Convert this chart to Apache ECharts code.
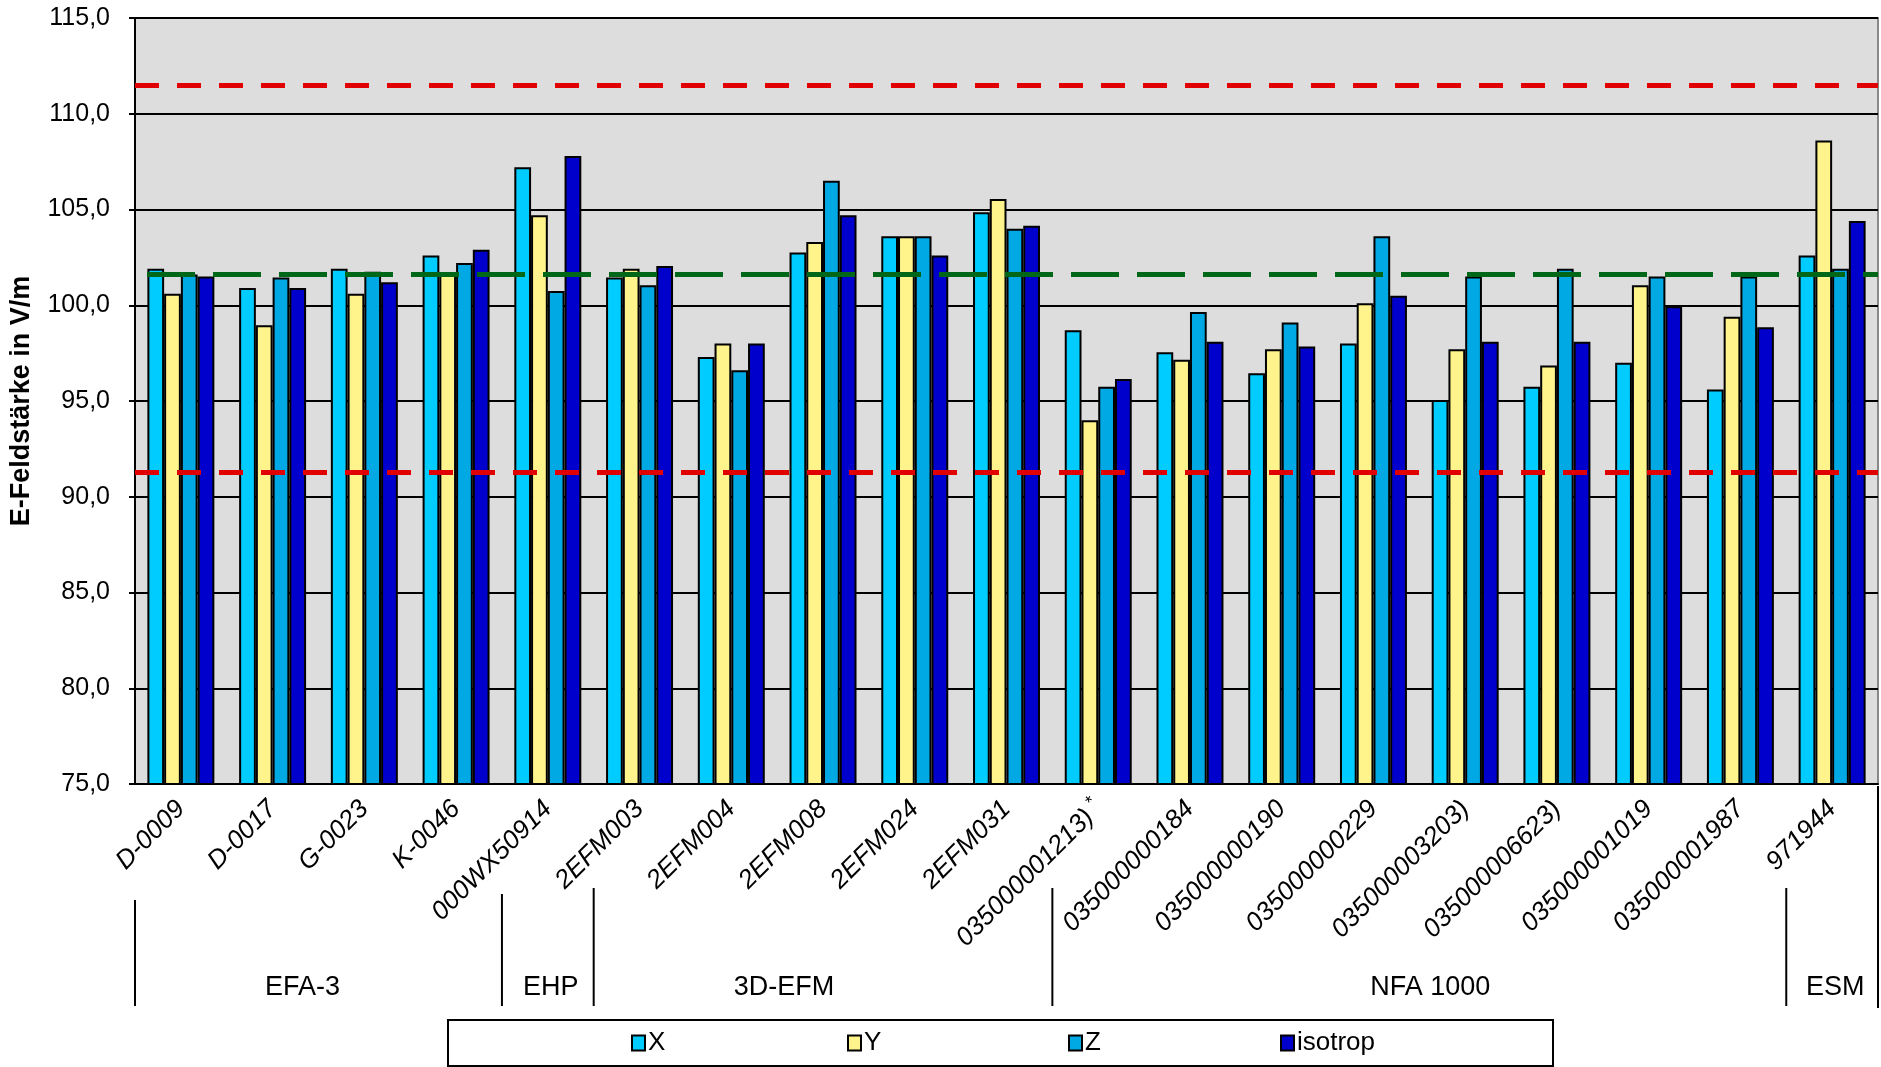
<!DOCTYPE html>
<html>
<head>
<meta charset="utf-8">
<script src="https://cdn.jsdelivr.net/npm/echarts@6/dist/echarts.min.js"></script>
<style>
html,body{margin:0;padding:0;background:#fff;}
#chart{width:1881px;height:1067px;}
</style>
</head>
<body>
<div id="chart"></div>
<script>
// Messgeräte (Kategorien)
var categories = ['D-0009','D-0017','G-0023','K-0046','000WX50914','2EFM003','2EFM004','2EFM008','2EFM024','2EFM031',
    '035000001213) *','035000000184','035000000190','035000000229','035000003203)','035000006623)','035000001019','035000001987','971944'];

// Werte in V/m
var xVals   = [101.9, 100.9, 101.9, 102.6, 107.2, 101.45, 97.3, 102.75, 103.6, 104.85, 98.7, 97.55, 96.45, 98.0, 95.05, 95.75, 97.0, 95.6, 102.6];
var yVals   = [100.6, 98.95, 100.6, 101.7, 104.7, 101.9, 98.0, 103.3, 103.6, 105.55, 94.0, 97.15, 97.7, 100.1, 97.7, 96.85, 101.05, 99.4, 108.6];
var zVals   = [101.6, 101.45, 101.75, 102.2, 100.75, 101.05, 96.6, 106.5, 103.6, 104.0, 95.75, 99.65, 99.1, 103.6, 101.5, 101.9, 101.5, 101.5, 101.9];
var isoVals = [101.5, 100.9, 101.2, 102.9, 107.8, 102.05, 98.0, 104.7, 102.6, 104.15, 96.15, 98.1, 97.85, 100.5, 98.1, 98.1, 99.95, 98.85, 104.4];

// Referenzlinien
var refMean = 101.6;
var refUpper = 111.5;
var refLower = 91.3;

// Gerätegruppen: Name und erster Kategorie-Index
var groupNames  = ['EFA-3', 'EHP', '3D-EFM', 'NFA 1000', 'ESM'];
var groupStarts = [0, 4, 5, 10, 18];

// Layout der Gruppenbeschriftung (Pixel)
var groupLabelShift = [-16, 3, -39, 11, 3];
var sepTops = [900, 894, 888, 888, 888];

var FONT = '"Liberation Sans", Arial, sans-serif';
var chart = echarts.init(document.getElementById('chart'));

function barSeries(name, data, color) {
    return {
        name: name, type: 'bar', data: data,
        barGap: '0%', barCategoryGap: '27%',
        itemStyle: {color: color, borderColor: '#000', borderWidth: 2}
    };
}

function legendAt(name, left) {
    return {
        data: [name], left: left, top: 1030, padding: 0,
        icon: 'rect', itemWidth: 13, itemHeight: 15, itemGap: 5,
        textStyle: {fontFamily: FONT, fontSize: 26, color: '#000', padding: [0, 0, 0, -2]},
        selectedMode: false
    };
}

var option = {
    animation: false,
    backgroundColor: '#fff',
    textStyle: {fontFamily: FONT},
    grid: {
        left: 126, right: 3, top: 18, bottom: 283,
        show: true, backgroundColor: '#DDDDDD', borderColor: '#888', borderWidth: 2
    },
    legend: [
        legendAt('X', 631),
        legendAt('Y', 847),
        legendAt('Z', 1068),
        legendAt('isotrop', 1280)
    ],
    xAxis: {
        type: 'category',
        data: categories,
        axisLine: {lineStyle: {color: '#000', width: 2}},
        axisTick: {length: 8, lineStyle: {color: '#000', width: 2}},
        axisLabel: {
            interval: 0, rotate: 45, margin: 21,
            fontFamily: FONT, fontSize: 26, fontStyle: 'italic', color: '#000',
            formatter: function (v) { return v.replace(' *', '{s| *}'); },
            rich: {s: {fontFamily: FONT, fontSize: 18, fontStyle: 'italic', color: '#000', padding: [0, 0, 14, 0]}}
        }
    },
    yAxis: {
        type: 'value',
        min: 75, max: 115, interval: 5,
        name: 'E-Feldstärke in V/m',
        nameLocation: 'middle', nameGap: 100,
        nameTextStyle: {fontFamily: FONT, fontSize: 27, fontWeight: 'bold', color: '#000'},
        axisLine: {show: true, lineStyle: {color: '#000', width: 2}},
        axisTick: {show: true, length: 6, lineStyle: {color: '#000', width: 2}},
        axisLabel: {
            margin: 25, fontFamily: FONT, fontSize: 25, color: '#000',
            formatter: function (v) { return v.toFixed(1).replace('.', ','); }
        },
        splitLine: {lineStyle: {color: '#000', width: 2}}
    },
    series: [
        barSeries('X', xVals, '#00CCFF'),
        barSeries('Y', yVals, '#FFF38C'),
        barSeries('Z', zVals, '#00A8E4'),
        barSeries('isotrop', isoVals, '#0000CC'),
        {
            name: 'ref', type: 'line', data: [], z: 10, silent: true,
            markLine: {
                symbol: ['none', 'none'], silent: true, label: {show: false},
                data: [
                    {yAxis: refUpper, lineStyle: {color: '#E00000', width: 5, type: [24, 18]}},
                    {yAxis: refLower, lineStyle: {color: '#E00000', width: 5, type: [24, 18]}},
                    {yAxis: refMean, lineStyle: {color: '#006618', width: 5, type: [48, 18], dashOffset: 54}}
                ]
            }
        }
    ]
};
chart.setOption(option);

// Gruppenbeschriftung unter der Achse
var c0 = chart.convertToPixel({xAxisIndex: 0}, 0);
var c1 = chart.convertToPixel({xAxisIndex: 0}, 1);
var band = c1 - c0;
var elements = [];
for (var i = 0; i < groupStarts.length; i++) {
    var xs = c0 - band / 2 + groupStarts[i] * band;
    var xe = (i + 1 < groupStarts.length) ? c0 - band / 2 + groupStarts[i + 1] * band : c0 - band / 2 + categories.length * band;
    elements.push({type: 'line', shape: {x1: xs, y1: sepTops[i], x2: xs, y2: 1006}, style: {stroke: '#000', lineWidth: 2}});
    elements.push({
        type: 'text', x: (xs + xe) / 2 + groupLabelShift[i], y: 988,
        style: {text: groupNames[i], fontFamily: FONT, fontSize: 27, fill: '#000', align: 'center', verticalAlign: 'middle'}
    });
}
var xEnd = c0 - band / 2 + categories.length * band;
elements.push({type: 'line', shape: {x1: xEnd, y1: 786, x2: xEnd, y2: 1008}, style: {stroke: '#000', lineWidth: 2}});
// Legendenrahmen
elements.push({type: 'rect', z: -1, shape: {x: 448, y: 1020, width: 1105, height: 46}, style: {fill: 'none', stroke: '#000', lineWidth: 2}});
chart.setOption({graphic: elements});
</script>
</body>
</html>
